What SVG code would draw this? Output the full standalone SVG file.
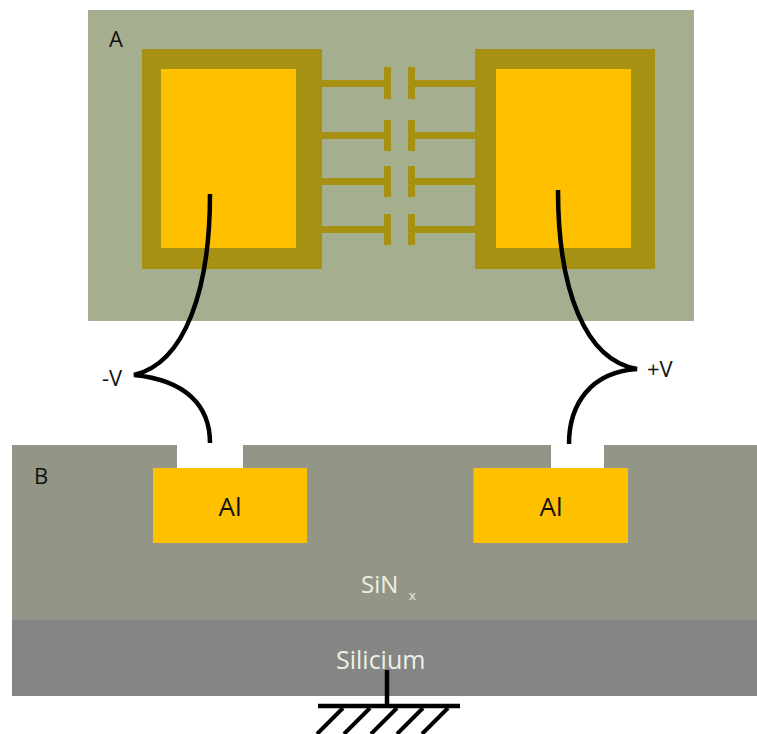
<svg xmlns="http://www.w3.org/2000/svg" width="757" height="734" viewBox="0 0 757 734">
<style>
text{font-family:"Open Sans","Noto Sans","Liberation Sans",sans-serif;fill:#111}
.pad{fill:#a69113}
.in{fill:#ffc000}
.w{fill:none;stroke:#000;stroke-width:4.5}
.lt{fill:#eef0e4}
</style>
<rect width="757" height="734" fill="#fff"/>
<g id="top-view">
<rect x="88" y="10" width="606" height="311" fill="#a6ae90"/>
<text x="109" y="47" font-size="22">A</text>
</g>
<g id="left-pad">
<rect class="pad" x="142" y="49" width="180" height="220"/>
<rect class="in" x="161" y="69" width="135" height="179"/>
<rect class="pad" x="322" y="80" width="62" height="7"/><rect class="pad" x="384" y="67" width="7" height="32"/>
<rect class="pad" x="322" y="132" width="62" height="7"/><rect class="pad" x="384" y="120" width="7" height="31"/>
<rect class="pad" x="322" y="178" width="62" height="7"/><rect class="pad" x="384" y="166" width="7" height="31"/>
<rect class="pad" x="322" y="226" width="62" height="7"/><rect class="pad" x="384" y="214" width="7" height="31"/>
</g>
<g id="right-pad">
<rect class="pad" x="475" y="49" width="180" height="220"/>
<rect class="in" x="496" y="69" width="135" height="179"/>
<rect class="pad" x="415" y="80" width="60" height="7"/><rect class="pad" x="408" y="67" width="7" height="32"/>
<rect class="pad" x="415" y="132" width="60" height="7"/><rect class="pad" x="408" y="120" width="7" height="31"/>
<rect class="pad" x="415" y="178" width="60" height="7"/><rect class="pad" x="408" y="166" width="7" height="31"/>
<rect class="pad" x="415" y="226" width="60" height="7"/><rect class="pad" x="408" y="214" width="7" height="31"/>
</g>
<g id="cross-section">
<rect x="12" y="445" width="745" height="175" fill="#939687"/>
<rect x="12" y="620" width="745" height="76" fill="#858585"/>
<rect x="177" y="445" width="66" height="23" fill="#fff"/>
<rect x="551" y="445" width="53" height="23" fill="#fff"/>
<text x="34" y="484" font-size="22">B</text>
<text class="lt" x="361" y="593" font-size="24">SiN</text>
<text class="lt" x="409" y="600" font-size="13">x</text>
<text class="lt" x="336" y="669" font-size="25">Silicium</text>
</g>
<g id="al-left">
<rect class="in" x="153" y="468" width="154" height="75"/>
<text x="230" y="516" font-size="26" text-anchor="middle">Al</text>
</g>
<g id="al-right">
<rect class="in" x="473.500" y="468" width="154.500" height="75"/>
<text x="551" y="516" font-size="26" text-anchor="middle">Al</text>
</g>
<g id="connectors">
<path class="w" d="M210 194C210 290 185 363 134 375C185 380 210 405 210 443"/>
<path class="w" d="M558 190C558 290 585 360 637 369C590 372 569 405 569 444"/>
<path d="M387 670V705" stroke="#000" stroke-width="4.500" fill="none"/>
<path d="M318 706H460" stroke="#000" stroke-width="4.500" fill="none"/>
<path d="M343 708L317 734M370 708L344 734M397 708L371 734M423 708L397 734M448 708L422 734" stroke="#000" stroke-width="4" fill="none"/>
</g>
<g id="labels">
<text x="102" y="386" font-size="22">-V</text>
<text x="647" y="377" font-size="22">+V</text>
</g>
</svg>
